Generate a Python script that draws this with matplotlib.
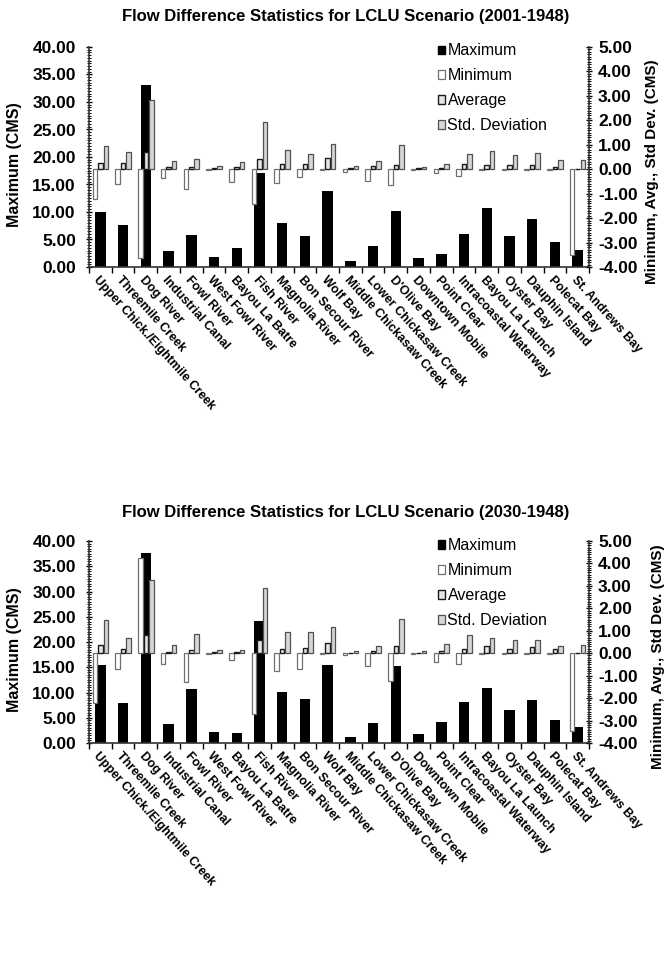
import matplotlib

matplotlib.use("Agg")
import matplotlib.pyplot as plt
import numpy as np
from matplotlib.patches import Patch
from matplotlib.ticker import FormatStrFormatter, MultipleLocator

plt.rcParams["font.family"] = ["Liberation Sans", "DejaVu Sans"]

SITES = [
    "Upper Chick./Eightmile Creek", "Threemile Creek", "Dog River", "Industrial Canal",
    "Fowl River", "West Fowl River", "Bayou La Batre", "Fish River", "Magnolia River",
    "Bon Secour River", "Wolf Bay", "Middle Chickasaw Creek", "Lower Chickasaw Creek",
    "D'Olive Bay", "Downtown Mobile", "Point Clear", "Intracoastal Waterway",
    "Bayou La Launch", "Oyster Bay", "Dauphin Island", "Polecat Bay", "St. Andrews Bay",
]

# scenario 2001-1948
max_2001 = [10.0, 7.7, 33.0, 3.0, 5.9, 1.9, 3.4, 17.1, 8.0, 5.7, 13.9,
            1.1, 3.9, 10.1, 1.7, 2.3, 6.0, 10.7, 5.7, 8.7, 4.5, 3.1]
min_2001 = [-1.22, -0.62, -3.63, -0.36, -0.80, -0.03, -0.52, -1.43, -0.57, -0.30, -0.02,
            -0.12, -0.49, -0.65, -0.02, -0.16, -0.27, -0.02, -0.03, -0.03, -0.02, -3.52]
avg_2001 = [0.27, 0.24, 0.70, 0.11, 0.09, 0.05, 0.11, 0.43, 0.22, 0.22, 0.47,
            0.05, 0.13, 0.16, 0.03, 0.05, 0.22, 0.16, 0.16, 0.16, 0.11, 0.01]
std_2001 = [0.97, 0.70, 2.85, 0.32, 0.40, 0.13, 0.30, 1.92, 0.78, 0.64, 1.04,
            0.12, 0.35, 0.98, 0.09, 0.22, 0.62, 0.76, 0.57, 0.65, 0.38, 0.38]

# scenario 2030-1948
max_2030 = [15.5, 8.0, 37.6, 3.8, 10.6, 2.2, 2.0, 24.2, 10.1, 8.7, 15.5,
            1.2, 4.0, 15.2, 1.8, 4.2, 8.1, 10.8, 6.6, 8.6, 4.6, 3.2]
min_2030 = [-2.20, -0.69, 4.25, -0.49, -1.27, -0.03, -0.30, -2.70, -0.80, -0.69, -0.02,
            -0.10, -0.55, -1.25, -0.02, -0.40, -0.50, -0.02, -0.05, -0.02, -0.02, -3.48]
avg_2030 = [0.36, 0.20, 0.80, 0.07, 0.15, 0.05, 0.04, 0.57, 0.20, 0.23, 0.44,
            0.02, 0.08, 0.32, 0.02, 0.10, 0.19, 0.32, 0.21, 0.26, 0.18, 0.01]
std_2030 = [1.48, 0.68, 3.26, 0.36, 0.84, 0.13, 0.16, 2.92, 0.95, 0.94, 1.18,
            0.08, 0.30, 1.53, 0.08, 0.40, 0.79, 0.69, 0.58, 0.58, 0.34, 0.35]

PANELS = [
    ("Flow Difference Statistics for LCLU Scenario (2001-1948)", max_2001, min_2001, avg_2001, std_2001),
    ("Flow Difference Statistics for LCLU Scenario (2030-1948)", max_2030, min_2030, avg_2030, std_2030),
]

W, H = 666, 971
# axes boxes in pixels: (left, top, right, bottom)
BOXES = [(89, 47, 589, 267), (89, 541, 589, 743)]
TITLE_Y = [17, 513]
RLABEL_X = [652, 658]

MIN_STYLE = dict(facecolor="white", edgecolor="#707070", lw=0.9)
AVG_STYLE = dict(facecolor="#e6e6e6", edgecolor="#1a1a1a", lw=1.0)
STD_STYLE = dict(facecolor="#d6d6d6", edgecolor="#505050", lw=0.9)


def draw_panel(fig, box, title_y, rlab_x, title, vmax, vmin, vavg, vstd):
    l, t, r, b = box
    ax = fig.add_axes([l / W, 1 - b / H, (r - l) / W, (b - t) / H])
    ax2 = ax.twinx()
    x = np.arange(len(SITES))

    ax.bar(x, vmax, width=0.46, color="black", zorder=2)
    w2 = 0.2
    ax2.bar(x - 0.24, vmin, width=w2, **MIN_STYLE)
    ax2.bar(x, vavg, width=w2, **AVG_STYLE)
    ax2.bar(x + 0.24, vstd, width=w2, **STD_STYLE)

    ax.set_xlim(-0.5, len(SITES) - 0.5)
    ax.set_ylim(0, 40)
    ax2.set_ylim(-4, 5)
    ax.yaxis.set_major_locator(MultipleLocator(5))
    ax.yaxis.set_minor_locator(MultipleLocator(0.5))
    ax2.yaxis.set_major_locator(MultipleLocator(1))
    ax2.yaxis.set_minor_locator(MultipleLocator(0.1))
    ax.yaxis.set_major_formatter(FormatStrFormatter("%.2f"))
    ax2.yaxis.set_major_formatter(FormatStrFormatter("%.2f"))

    for a in (ax, ax2):
        a.spines["top"].set_visible(False)
    ax.spines["right"].set_visible(False)
    ax2.spines["left"].set_visible(False)
    ax2.spines["bottom"].set_visible(False)
    for a in (ax, ax2):
        for s in a.spines.values():
            s.set_linewidth(1.2)
            s.set_color("#333333")

    ax.tick_params(axis="y", which="major", direction="inout", length=5, width=1,
                   labelsize=12.5, pad=7)
    ax.tick_params(axis="y", which="minor", direction="inout", length=3, width=0.7)
    ax2.tick_params(axis="y", which="major", direction="inout", length=5, width=1,
                    labelsize=12.5, pad=4)
    ax2.tick_params(axis="y", which="minor", direction="inout", length=3, width=0.7)
    for lab in ax.get_yticklabels() + ax2.get_yticklabels():
        lab.set_fontweight("bold")

    # category labels at centres, tick marks between categories
    ax.set_xticks(x)
    ax.set_xticklabels(SITES, rotation=-48, ha="left", va="top",
                       rotation_mode="anchor", fontsize=9, fontweight="bold")
    ax.tick_params(axis="x", which="major", length=0, pad=5)
    ax.set_xticks(np.arange(-0.5, len(SITES)), minor=True)
    ax.tick_params(axis="x", which="minor", direction="out", length=4, width=1)

    ax.set_zorder(1)
    ax2.set_zorder(2)

    fig.text((l + r) / 2 / W + 0.01, 1 - title_y / H, title, ha="center", va="center",
             fontsize=12, fontweight="bold")
    fig.text(15 / W, 1 - (t + b) / 2 / H - 0.008, "Maximum (CMS)", rotation=90,
             ha="center", va="center", fontsize=11.5, fontweight="bold")
    fig.text(rlab_x / W, 1 - (t + b) / 2 / H - 0.015, "Minimum, Avg., Std Dev. (CMS)",
             rotation=90, ha="center", va="center", fontsize=11, fontweight="bold")

    handles = [
        Patch(facecolor="black", edgecolor="black"),
        Patch(**MIN_STYLE),
        Patch(**AVG_STYLE),
        Patch(**STD_STYLE),
    ]
    ax2.legend(handles, ["Maximum", "Minimum", "Average", "Std. Deviation"],
               loc="upper left", bbox_to_anchor=(0.685, 1.045), frameon=False,
               handlelength=0.45, handleheight=0.45, handletextpad=0.15,
               labelspacing=0.62, fontsize=11.5, borderaxespad=0)


fig = plt.figure(figsize=(W / 100, H / 100), dpi=100)
for box, ty, rx, (title, vmax, vmin, vavg, vstd) in zip(BOXES, TITLE_Y, RLABEL_X, PANELS):
    draw_panel(fig, box, ty, rx, title, vmax, vmin, vavg, vstd)

fig.savefig("out.png", dpi=100, facecolor="white")
